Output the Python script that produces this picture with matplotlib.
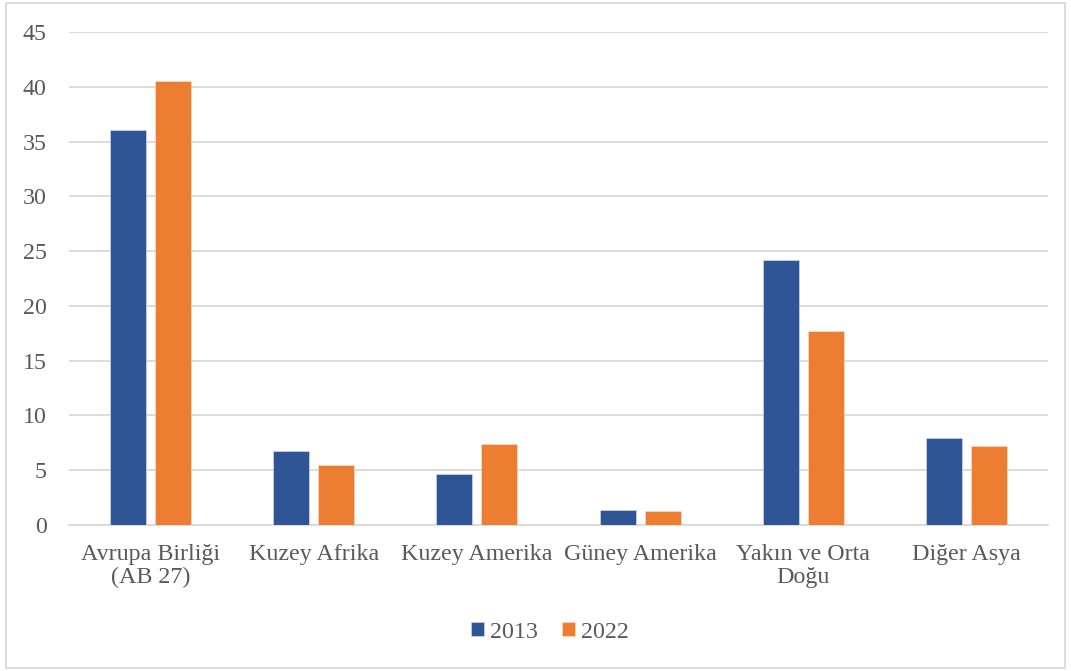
import numpy as np
import matplotlib
matplotlib.use('Agg')
import matplotlib.pyplot as plt
from matplotlib.patches import Rectangle

# Data
regions = ['Avrupa Birliği\n(AB 27)', 'Kuzey Afrika', 'Kuzey Amerika',
           'Güney Amerika', 'Yakın ve Orta\nDoğu', 'Diğer Asya']
values_2013 = [36.1, 6.74, 4.70, 1.34, 24.2, 7.93]
values_2022 = [40.5, 5.52, 7.35, 1.28, 17.7, 7.20]
series_labels = ['2013', '2022']
yticks = [0, 5, 10, 15, 20, 25, 30, 35, 40, 45]

blue = '#2F5597'
orange = '#ED7D31'
grid_col = '#D9D9D9'
text_col = '#595959'
fs = 17.3

plt.rcParams['font.family'] = ['Liberation Serif', 'DejaVu Serif']

fig = plt.figure(figsize=(10.71, 6.71), dpi=100)
fig.patch.set_facecolor('white')
ax = fig.add_axes([69 / 1071, 1 - 525 / 671, (1048 - 69) / 1071, (525 - 32) / 671])

x = np.arange(len(regions))
w = 0.22
off = w / 2 + 0.028
ax.bar(x - off, values_2013, width=w, color=blue, edgecolor='#DCE3F0', linewidth=0.4,
       label=series_labels[0], zorder=3)
ax.bar(x + off, values_2022, width=w, color=orange, edgecolor='#FBE3D3', linewidth=0.4,
       label=series_labels[1], zorder=3)

ax.set_xlim(-0.5, len(regions) - 0.5)
ax.set_ylim(0, 45)
ax.set_yticks(yticks)
ax.set_yticklabels([str(t) for t in yticks])
ax.set_xticks(x)
ax.set_xticklabels(regions, linespacing=1.1)

ax.yaxis.grid(True, color=grid_col, linewidth=1.3, zorder=0)
ax.set_axisbelow(True)
for s in ['top', 'right', 'left']:
    ax.spines[s].set_visible(False)
ax.spines['bottom'].set_color(grid_col)
ax.spines['bottom'].set_linewidth(1.3)
ax.tick_params(axis='both', length=0, labelsize=fs, labelcolor=text_col)
ax.tick_params(axis='y', pad=16)
ax.tick_params(axis='x', pad=14)

fig.legend(loc='center', bbox_to_anchor=(550 / 1071, 1 - 632 / 671), ncol=2,
           frameon=False, fontsize=fs, labelcolor=text_col,
           handlelength=0.55, handleheight=0.55, handletextpad=0.25, columnspacing=1.0)

# outer chart border
fig.patches.append(Rectangle((6 / 1071, 1 - 668 / 671), (1065 - 6) / 1071, (668 - 3) / 671,
                             transform=fig.transFigure, fill=False,
                             edgecolor=grid_col, linewidth=1.3))

fig.savefig('out.png', dpi=100, facecolor='white')
